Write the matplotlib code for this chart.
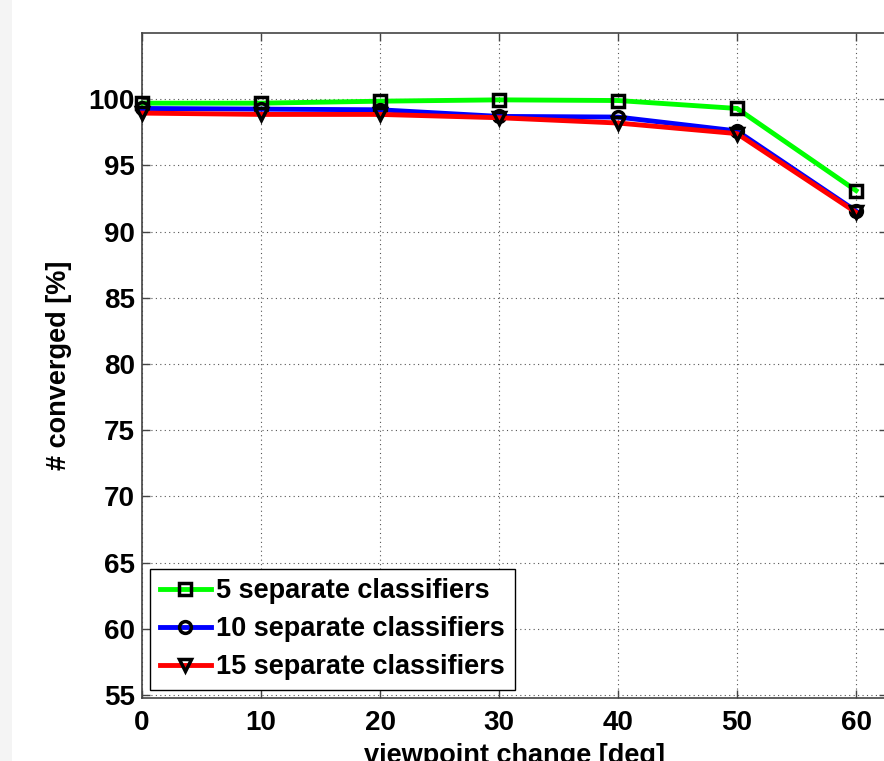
import matplotlib
matplotlib.use('Agg')
import matplotlib.pyplot as plt
from matplotlib.patches import Rectangle

# viewpoint change in degrees
viewpoint = [0, 10, 20, 30, 40, 50, 60]
# percentage converged for each number of classifiers
conv_5 = [99.7, 99.7, 99.85, 99.95, 99.9, 99.3, 93.1]
conv_10 = [99.3, 99.25, 99.2, 98.7, 98.65, 97.6, 91.55]
conv_15 = [98.95, 98.85, 98.85, 98.6, 98.2, 97.4, 91.45]
labels = ['5 separate classifiers', '10 separate classifiers', '15 separate classifiers']
y_ticks = [55, 60, 65, 70, 75, 80, 85, 90, 95, 100]
x_ticks = [0, 10, 20, 30, 40, 50, 60]

plt.rcParams['font.family'] = ['Liberation Sans', 'DejaVu Sans']
plt.rcParams['font.weight'] = 'bold'

fig = plt.figure(figsize=(8.84, 7.61), dpi=100)
# grey strip at the left edge of the screenshot
fig.patches.append(Rectangle((0, 0), 12 / 884, 1, transform=fig.transFigure,
                             facecolor='#f4f4f4', edgecolor='none', zorder=0))

ax = fig.add_axes([142 / 884, 63 / 761, 745 / 884, 665 / 761])

styles = [('#00ff00', 's'), ('#0000ff', 'o'), ('#ff0000', 'v')]
for series, (col, mk), lab in zip([conv_5, conv_10, conv_15], styles, labels):
    ax.plot(viewpoint, series, color=col, lw=3.5, marker=mk, markersize=8.5,
            markerfacecolor='none', markeredgecolor='k', markeredgewidth=2.5,
            label=lab, clip_on=False, zorder=3)

ax.set_xlim(0, 62.6)
ax.set_ylim(54.77, 105)
ax.set_xticks(x_ticks)
ax.set_yticks(y_ticks)
ax.grid(True, color='#555555', linestyle=(0, (1, 3)), linewidth=0.8)
ax.tick_params(direction='in', length=6, width=1, top=True, right=True,
               labelsize=20, pad=5, color='#444444')
ax.tick_params(axis='x', pad=9)
for s in ax.spines.values():
    s.set_color('#444444')
    s.set_linewidth(1.2)

ax.set_xlabel('viewpoint change [deg]', fontsize=19.5, fontweight='bold', labelpad=5)
ax.set_ylabel('# converged [%]', fontsize=19.5, fontweight='bold', labelpad=12)

leg = ax.legend(loc='lower left', fontsize=19.5, handlelength=1.9, handletextpad=0.2,
                borderaxespad=0.3, borderpad=0.35, labelspacing=0.45, fancybox=False,
                framealpha=1, edgecolor='k')
leg.get_frame().set_linewidth(1.0)

fig.savefig('out.png', dpi=100)
